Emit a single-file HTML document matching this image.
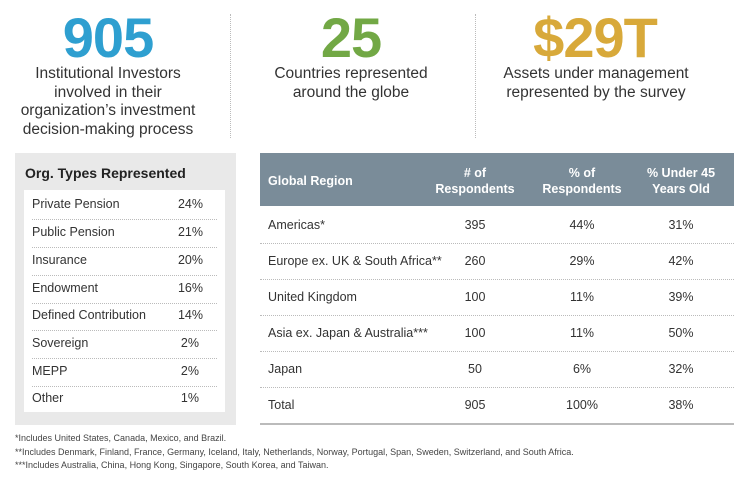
<!DOCTYPE html>
<html><head><style>
body{margin:0;width:750px;height:483px;background:#fff;font-family:"Liberation Sans",sans-serif;color:#333;position:relative;overflow:hidden}
.a{position:absolute}
.big{font-weight:bold;font-size:56px;line-height:56px;text-align:center;letter-spacing:-1px}
.sub{font-size:15.5px;line-height:18.5px;text-align:center;color:#333}
.vd{position:absolute;width:0;border-left:1px dotted #bbb;top:14px;height:124px}
.org{left:15px;top:153px;width:221px;height:272px;background:#e9e9e9}
.inner{left:24px;top:190px;width:201px;height:222px;background:#fff}
.orow{position:absolute;left:8px;width:185px;height:27.5px;font-size:12.5px;line-height:27.5px;border-bottom:1px dotted #bbb}
.orow span{position:absolute;right:14px}
.hd{left:260px;top:153px;width:474px;height:53px;background:#7a8c99;color:#fff;font-weight:bold;font-size:12.5px}
.row{position:absolute;left:260px;width:474px;height:35px;border-bottom:1px dotted #bbb;font-size:12.5px;line-height:35px}
.c{position:absolute;text-align:center;width:100px}
.fn{left:15px;font-size:9px;color:#444}
</style></head><body>
<div class="a big" style="left:8px;top:10px;width:200px;color:#2e9fd0">905</div>
<div class="a sub" style="left:-2px;top:65px;width:220px">Institutional Investors<br>involved in their<br>organization’s investment<br>decision-making process</div>
<div class="vd" style="left:230px"></div>
<div class="a big" style="left:251px;top:10px;width:200px;color:#72a845">25</div>
<div class="a sub" style="left:241px;top:65px;width:220px">Countries represented<br>around the globe</div>
<div class="vd" style="left:475px"></div>
<div class="a big" style="left:495px;top:10px;width:200px;color:#d8a93a">$29T</div>
<div class="a sub" style="left:476px;top:65px;width:240px">Assets under management<br>represented by the survey</div>

<div class="a org"></div>
<div class="a" style="left:25px;top:165px;font-size:14px;font-weight:bold;color:#222">Org. Types Represented</div>
<div class="a inner">
<div class="orow" style="top:1px">Private Pension<span>24%</span></div>
<div class="orow" style="top:29px">Public Pension<span>21%</span></div>
<div class="orow" style="top:57px">Insurance<span>20%</span></div>
<div class="orow" style="top:85px">Endowment<span>16%</span></div>
<div class="orow" style="top:112px">Defined Contribution<span>14%</span></div>
<div class="orow" style="top:140px">Sovereign<span style="right:18px">2%</span></div>
<div class="orow" style="top:168px">MEPP<span style="right:18px">2%</span></div>
<div class="orow" style="top:195px;border:none">Other<span style="right:18px">1%</span></div>
</div>

<div class="a hd">
<div class="a" style="left:8px;top:21px">Global Region</div>
<div class="c" style="left:165px;top:12px;line-height:16px">&#35; of<br>Respondents</div>
<div class="c" style="left:272px;top:12px;line-height:16px">% of<br>Respondents</div>
<div class="c" style="left:371px;top:12px;line-height:16px">% Under 45<br>Years Old</div>
</div>
<div class="row" style="top:208px"><span class="a" style="left:8px">Americas*</span><span class="c" style="left:165px">395</span><span class="c" style="left:272px">44%</span><span class="c" style="left:371px">31%</span></div>
<div class="row" style="top:244px"><span class="a" style="left:8px">Europe ex. UK &amp; South Africa**</span><span class="c" style="left:165px">260</span><span class="c" style="left:272px">29%</span><span class="c" style="left:371px">42%</span></div>
<div class="row" style="top:280px"><span class="a" style="left:8px">United Kingdom</span><span class="c" style="left:165px">100</span><span class="c" style="left:272px">11%</span><span class="c" style="left:371px">39%</span></div>
<div class="row" style="top:316px"><span class="a" style="left:8px">Asia ex. Japan &amp; Australia***</span><span class="c" style="left:165px">100</span><span class="c" style="left:272px">11%</span><span class="c" style="left:371px">50%</span></div>
<div class="row" style="top:352px"><span class="a" style="left:8px">Japan</span><span class="c" style="left:165px">50</span><span class="c" style="left:272px">6%</span><span class="c" style="left:371px">32%</span></div>
<div class="row" style="top:388px;border-bottom:2px solid #bbb"><span class="a" style="left:8px">Total</span><span class="c" style="left:165px">905</span><span class="c" style="left:272px">100%</span><span class="c" style="left:371px">38%</span></div>

<div class="a fn" style="top:433px">*Includes United States, Canada, Mexico, and Brazil.</div>
<div class="a fn" style="top:447px">**Includes Denmark, Finland, France, Germany, Iceland, Italy, Netherlands, Norway, Portugal, Span, Sweden, Switzerland, and South Africa.</div>
<div class="a fn" style="top:460px">***Includes Australia, China, Hong Kong, Singapore, South Korea, and Taiwan.</div>
</body></html>
